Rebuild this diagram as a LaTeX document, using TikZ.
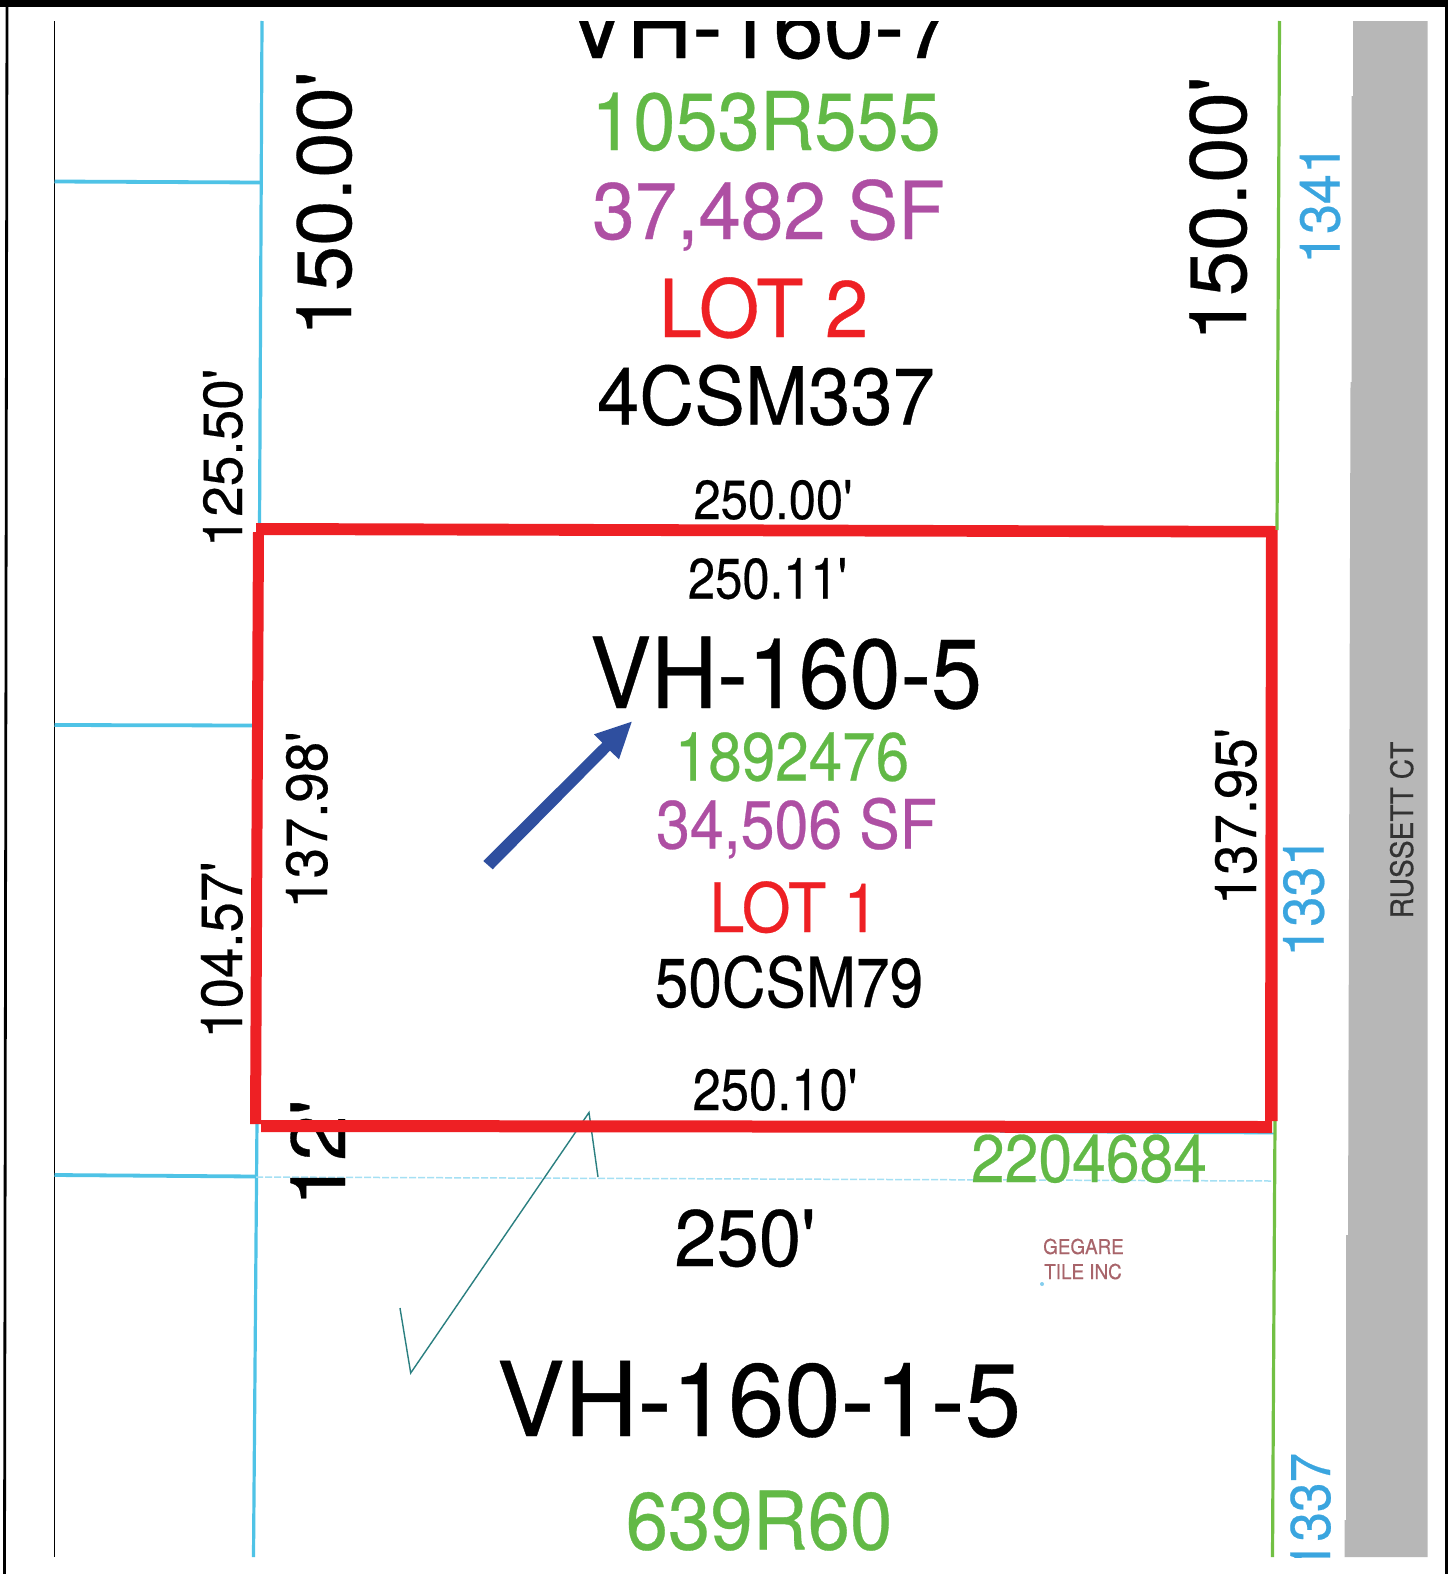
\documentclass[tikz,border=0pt]{standalone}
\usepackage{fontspec}
\setmainfont{TeX Gyre Heros}[FakeBold=0.4]
\newcommand{\ft}{\textquotesingle}
\definecolor{lotgreen}{HTML}{62B946}
\definecolor{linegreen}{HTML}{72C044}
\definecolor{lotpurple}{HTML}{AE4FA3}
\definecolor{lotred}{HTML}{EE2024}
\definecolor{lotblue}{HTML}{3AA5DF}
\definecolor{linecyan}{HTML}{4FC3E6}
\definecolor{dashcyan}{HTML}{A5E0F4}
\definecolor{road}{HTML}{B7B7B7}
\definecolor{owner}{HTML}{A8646A}
\definecolor{arrowblue}{HTML}{2F4F9F}
\definecolor{checkteal}{HTML}{2A7F80}
\tikzset{
  lbl/.style n args={3}{inner sep=0pt,outer sep=0pt,anchor=base,
    font=\fontsize{#1}{#1}\selectfont,xscale=#2,transform shape,text=#3},
  vlbl/.style n args={3}{inner sep=0pt,outer sep=0pt,anchor=base,rotate=90,
    font=\fontsize{#1}{#1}\selectfont,xscale=#2,transform shape,text=#3},
  bound/.style={draw=linecyan,line width=3.2pt},
  side/.style={draw=linegreen,line width=3.2pt},
  redbar/.style={fill=lotred,draw=none}
}
\begin{document}
\begin{tikzpicture}[x=1pt,y=-1pt]
\useasboundingbox (0,0) rectangle (1448,1574);
\fill[white] (0,0) rectangle (1448,1574);
% outer frame
\fill[black] (0,0) rectangle (1448,6.5);
\draw[black,line width=2.8pt] (7,0) -- (4.5,1574);
\draw[black,line width=2.6pt] (1446.5,0) -- (1446.5,1574);
% road
\fill[road] (1353,21) -- (1427.5,21) -- (1427.5,1557) -- (1344.5,1557) -- (1344.5,1520) -- (1346,1520)
  -- (1346,1235) -- (1348,1235) -- (1350.5,382) -- (1351.5,382) -- (1351.5,96) -- (1353,96) -- cycle;
% lot lines
\draw[black,line width=1.9pt] (54.5,21) -- (54.5,1557);
\draw[bound] (262,21) -- (259.5,530);
\draw[bound] (257,1120) -- (253.5,1557);
\draw[bound,line width=3.8pt] (54.5,181.5) -- (261,182.5);
\draw[bound,line width=3.8pt] (54.5,725) -- (256,725.5);
\draw[bound,line width=3.8pt] (54.5,1175) -- (256,1176.5);
\draw[dashcyan,line width=1.5pt,dash pattern=on 7pt off 2pt] (256,1177) -- (1272,1181);
\draw[bound,line width=1.8pt] (1000,1132) -- (1274,1133.5);
\draw[side] (1279.5,21) -- (1277,530);
\draw[side] (1275,1120) -- (1272.5,1557);
% texts of the lots
\begin{scope}
\clip (0,21) rectangle (1448,1557);
\node (t07) [lbl={90}{1.01}{black}] at (760.5,58) {VH-160-7};
\node (t1337) [vlbl={56}{.95}{lotblue}] at (1330,1512) {1337};
\node (t639) [lbl={81}{.94}{lotgreen}] at (759,1549.5) {639R60};
\end{scope}
\node (t1053) [lbl={81}{.935}{lotgreen}] at (766,150) {1053R555};
\node (t37) [lbl={80}{.955}{lotpurple}] at (768.5,239) {37,482 SF};
\node (tl2) [lbl={80}{.97}{lotred}] at (763.5,337) {LOT 2};
\node (t4c) [lbl={80}{.95}{black}] at (766,424.5) {4CSM337};
\node (t25000) [lbl={55}{.89}{black}] at (773,519) {250.00\ft};
\node (t25011) [lbl={57}{.86}{black}] at (767.5,598.5) {250.11\ft};
\node (t05) [lbl={98}{.935}{black}] at (786,708) {VH-160-5};
\node (t189) [lbl={68}{.885}{lotgreen}] at (792,780.5) {1892476};
\node (t34) [lbl={68}{.895}{lotpurple}] at (796.5,848.5) {34,506 SF};
\node (tl1) [lbl={68}{.92}{lotred}] at (794,932) {LOT 1};
\node (t50) [lbl={69}{.875}{black}] at (789,1007) {50CSM79};
\node (t25010) [lbl={58}{.875}{black}] at (775,1110) {250.10\ft};
\node (t220) [lbl={67}{.905}{lotgreen}] at (1089,1182) {2204684};
\node (t250) [lbl={80}{.95}{black}] at (745,1266) {250\ft};
\node (tge) [lbl={20.5}{.92}{owner}] at (1083.5,1254) {GEGARE};
\node (tti) [lbl={20.5}{.92}{owner}] at (1083,1279) {TILE INC};
\fill[dashcyan!70!lotblue] (1042,1284) circle (2pt);
\node (t0115) [lbl={103}{.985}{black}] at (759,1436) {VH-160-1-5};
% rotated texts
\node (v150l) [vlbl={77}{1.06}{black}] at (351,204) {150.00\ft};
\node (v150r) [vlbl={80}{1.02}{black}] at (1246,209) {150.00\ft};
\node (v125) [vlbl={55}{1.0}{black}] at (242,458) {125.50\ft};
\node (v104) [vlbl={58}{.94}{black}] at (242,950) {104.57\ft};
\node (v13798) [vlbl={58}{.94}{black}] at (327,820) {137.98\ft};
\node (v13795) [vlbl={58}{.94}{black}] at (1256,816.5) {137.95\ft};
\node (v12) [vlbl={77}{1.07}{black}] at (345,1153) {12\ft};
\node (v1341) [vlbl={56}{.96}{lotblue}] at (1339.5,204) {1341};
\node (v1331) [vlbl={57}{.95}{lotblue}] at (1323.5,896.5) {1331};
\node (vrus) [vlbl={31}{.91}{black!80}] at (1413,830) {RUSSETT CT};
% check mark
\draw[checkteal,line width=1.4pt,line join=miter] (400,1308) -- (410.7,1373) -- (589,1112.5) -- (598,1177);
% red outline
\fill[redbar] (256,523) -- (1275.5,526) -- (1275.5,537.5) -- (256,535) -- cycle;
\fill[redbar] (253,532) -- (264,532) -- (261,1124) -- (250,1124) -- cycle;
\fill[redbar] (261,1120) -- (1272,1121) -- (1272,1133) -- (261,1132) -- cycle;
\fill[redbar] (1266,530) -- (1277.5,530) -- (1277.5,1121) -- (1265,1121) -- cycle;
% arrow
\fill[arrowblue] (483.3,861) -- (602.3,742.7) -- (594,734.3) -- (631.7,721.7) -- (619,759.3) -- (610,750.7) -- (492.7,869.3) -- cycle;
\end{tikzpicture}
\end{document}
